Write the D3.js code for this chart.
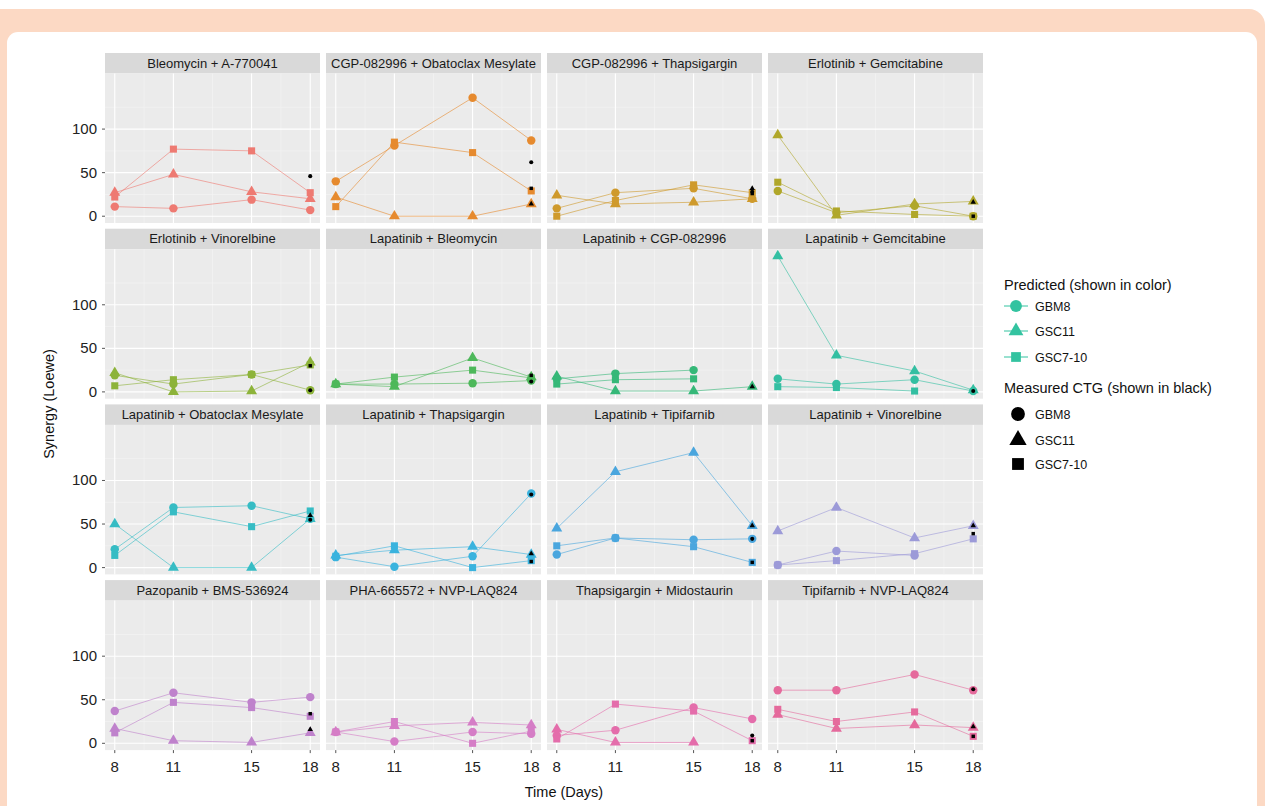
<!DOCTYPE html>
<html>
<head>
<meta charset="utf-8">
<script src="https://cdn.jsdelivr.net/npm/d3@7"></script>
<style>
  html, body { margin: 0; padding: 0; background: #fff; }
  svg { display: block; font-family: "Liberation Sans", Arial, Helvetica, sans-serif; }
</style>
</head>
<body>
<div id="chart"></div>
<script>
// facet titles, in panel order (4 x 4)
var combos = [
  "Bleomycin + A-770041", "CGP-082996 + Obatoclax Mesylate", "CGP-082996 + Thapsigargin", "Erlotinib + Gemcitabine",
  "Erlotinib + Vinorelbine", "Lapatinib + Bleomycin", "Lapatinib + CGP-082996", "Lapatinib + Gemcitabine",
  "Lapatinib + Obatoclax Mesylate", "Lapatinib + Thapsigargin", "Lapatinib + Tipifarnib", "Lapatinib + Vinorelbine",
  "Pazopanib + BMS-536924", "PHA-665572 + NVP-LAQ824", "Thapsigargin + Midostaurin", "Tipifarnib + NVP-LAQ824"
];
var panelColors = [
  "#ee7a72", "#e68a2e", "#cf9a2c", "#b0a72a",
  "#8db33a", "#4db85a", "#35b878", "#33bfa2",
  "#36bcc4", "#3ab3de", "#4aa6de", "#9c9ad8",
  "#bf82cc", "#d57dc6", "#e46dab", "#e56a9c"
];
var days = [8, 11, 15, 18];
var xTicks = [8, 11, 15, 18];
var yTicks = [0, 50, 100];
var cellLines = ["GBM8", "GSC11", "GSC7-10"];

// predicted synergy (one row per panel, values at days 8, 11, 15, 18)
var predGBM8 = [
  [11, 9, 19, 7], [40, 81, 136, 87], [9, 27, 32, 20], [29, 4, 12, 0],
  [19, 9, 20, 2], [9, 9, 10, 13], [15, 21, 25, null], [15, 9, 14, 1],
  [21, 69, 71, 56], [12, 1, 13, 85], [15, 34, 32, 33], [3, 19, 14, null],
  [37, 58, 47, 53], [13, 2, 13, 11], [9, 15, 41, 28], [61, 61, 79, 61]
];
var predGSC11 = [
  [27, 48, 28, 20], [22, 0, 0, 14], [24, 14, 16, 20], [93, 1, 14, 17],
  [22, 0, 1, 34], [9, 6, 39, 17], [18, 1, 1, 6], [156, 42, 24, 2],
  [50, 0, 0, 56], [14, 20, 24, 15], [45, 110, 132, 48], [42, 69, 34, 48],
  [17, 3, 1, 12], [13, 20, 24, 21], [16, 1, 1, null], [33, 17, 21, 18]
];
var predGSC710 = [
  [22, 77, 75, 27], [11, 85, 73, 29], [0, 18, 36, 27], [39, 6, 2, 0],
  [7, 14, 20, 31], [9, 17, 25, 16], [9, 14, 15, null], [6, 5, 1, null],
  [14, 64, 47, 65], [13, 25, 0, 8], [25, 34, 24, 6], [3, 8, 16, 33],
  [12, 47, 41, 31], [13, 25, 0, 14], [5, 45, 37, 3], [39, 25, 36, 8]
];
// measured CTG synergy at day 18
var ctgDay = 18;
var ctgGBM8 = [46, 62, 28, null, 2, 12, null, 1, 55, 84, 33, null, null, null, 9, 62];
var ctgGSC11 = [null, 14, 32, 16, null, null, 6, null, 60, 16, 48, 48, 16, null, null, 19];
var ctgGSC710 = [null, 32, 26, 0, 30, 19, null, null, null, 7, 6, 39, 34, null, 3, 8];

var W = 1265, H = 806;
var panelLeft = 105, colPitch = 221, panelW = 215;
var stripTop = 53, rowPitch = 175.7, stripH = 20.5, panelH = 149.5;

var svg = d3.select("#chart").append("svg")
    .attr("width", W)
    .attr("height", H);

// page frame
svg.append("rect").attr("x", -20).attr("y", 9).attr("width", W + 20).attr("height", H + 40)
    .attr("rx", 16).attr("fill", "#fcd9c4");
svg.append("rect").attr("x", 0).attr("y", 9).attr("width", 30).attr("height", H)
    .attr("fill", "#fcd9c4");
svg.append("rect").attr("x", 7).attr("y", 32).attr("width", 1250).attr("height", H + 40)
    .attr("rx", 11).attr("fill", "#fff");

var allVals = [].concat(d3.merge(predGBM8), d3.merge(predGSC11), d3.merge(predGSC710))
    .filter(function (v) { return v != null; });
var yMin = d3.min(allVals), yMax = d3.max(allVals);
var yPad = (yMax - yMin) * 0.05;

var x = d3.scaleLinear().domain([7.5, 18.5]).range([0, panelW]);
var y = d3.scaleLinear().domain([yMin - yPad, yMax + yPad]).range([panelH, 0]);

var shapes = [d3.symbolCircle, d3.symbolTriangle, d3.symbolSquare];
var bigSizes = [56, 52, 50];
var smallSizes = [13, 13, 12];

var line = d3.line()
    .defined(function (d) { return d != null; })
    .x(function (d, i) { return x(days[i]); })
    .y(function (d) { return y(d); });

combos.forEach(function (name, p) {
  var r = Math.floor(p / 4), c = p % 4;
  var gx = panelLeft + c * colPitch, gy = stripTop + r * rowPitch;
  var g = svg.append("g").attr("transform", "translate(" + gx + "," + gy + ")");

  g.append("rect").attr("width", panelW).attr("height", stripH).attr("fill", "#d9d9d9");
  g.append("text").attr("x", panelW / 2).attr("y", stripH / 2 + 4.5)
      .attr("text-anchor", "middle").attr("font-size", 13).attr("fill", "#1a1a1a")
      .text(name);

  var pg = g.append("g").attr("transform", "translate(0," + stripH + ")");
  pg.append("rect").attr("width", panelW).attr("height", panelH).attr("fill", "#ebebeb");

  // minor grid
  [25, 75, 125].forEach(function (v) {
    pg.append("line").attr("x1", 0).attr("x2", panelW).attr("y1", y(v)).attr("y2", y(v))
        .attr("stroke", "#f5f5f5").attr("stroke-width", 0.6);
  });
  [9.5, 13, 16.5].forEach(function (v) {
    pg.append("line").attr("y1", 0).attr("y2", panelH).attr("x1", x(v)).attr("x2", x(v))
        .attr("stroke", "#f5f5f5").attr("stroke-width", 0.6);
  });
  // major grid
  yTicks.forEach(function (v) {
    pg.append("line").attr("x1", 0).attr("x2", panelW).attr("y1", y(v)).attr("y2", y(v))
        .attr("stroke", "#fff").attr("stroke-width", 1.1);
  });
  xTicks.forEach(function (v) {
    pg.append("line").attr("y1", 0).attr("y2", panelH).attr("x1", x(v)).attr("x2", x(v))
        .attr("stroke", "#fff").attr("stroke-width", 1.1);
  });

  var col = panelColors[p];
  var series = [predGBM8[p], predGSC11[p], predGSC710[p]];

  series.forEach(function (vals) {
    pg.append("path").datum(vals).attr("d", line)
        .attr("fill", "none").attr("stroke", col).attr("stroke-width", 1)
        .attr("stroke-opacity", 0.6);
  });
  series.forEach(function (vals, s) {
    pg.selectAll(".pt" + s)
        .data(vals.map(function (v, i) { return { day: days[i], v: v }; })
                  .filter(function (d) { return d.v != null; }))
      .enter().append("path")
        .attr("transform", function (d) { return "translate(" + x(d.day) + "," + y(d.v) + ")"; })
        .attr("d", d3.symbol().type(shapes[s]).size(bigSizes[s]))
        .attr("fill", col);
  });

  [ctgGBM8[p], ctgGSC11[p], ctgGSC710[p]].forEach(function (v, s) {
    if (v == null) return;
    pg.append("path")
        .attr("transform", "translate(" + x(ctgDay) + "," + y(v) + ")")
        .attr("d", d3.symbol().type(shapes[s]).size(smallSizes[s]))
        .attr("fill", "#000");
  });

  // y axis on first column
  if (c === 0) {
    yTicks.forEach(function (v) {
      pg.append("line").attr("x1", -3).attr("x2", 0).attr("y1", y(v)).attr("y2", y(v))
          .attr("stroke", "#555").attr("stroke-width", 1);
      pg.append("text").attr("x", -8).attr("y", y(v) + 5)
          .attr("text-anchor", "end").attr("font-size", 15).attr("fill", "#222")
          .text(v);
    });
  }
  // x axis on last row
  if (r === 3) {
    xTicks.forEach(function (v) {
      pg.append("line").attr("y1", panelH).attr("y2", panelH + 3).attr("x1", x(v)).attr("x2", x(v))
          .attr("stroke", "#555").attr("stroke-width", 1);
      pg.append("text").attr("x", x(v)).attr("y", panelH + 22)
          .attr("text-anchor", "middle").attr("font-size", 15).attr("fill", "#222")
          .text(v);
    });
  }
});

// axis titles
svg.append("text").attr("x", 564).attr("y", 797)
    .attr("text-anchor", "middle").attr("font-size", 14.5).attr("fill", "#111")
    .text("Time (Days)");
svg.append("text").attr("transform", "translate(54,404) rotate(-90)")
    .attr("text-anchor", "middle").attr("font-size", 14.5).attr("fill", "#111")
    .text("Synergy (Loewe)");

// legend
var leg = svg.append("g");
var keyColor = "#33c3a0";
leg.append("text").attr("x", 1004).attr("y", 290).attr("font-size", 14.5).attr("fill", "#111")
    .text("Predicted (shown in color)");
[306, 331, 357].forEach(function (ky, s) {
  leg.append("line").attr("x1", 1004).attr("x2", 1028).attr("y1", ky).attr("y2", ky)
      .attr("stroke", keyColor).attr("stroke-width", 1);
  leg.append("path").attr("transform", "translate(1016," + ky + ")")
      .attr("d", d3.symbol().type(shapes[s]).size([110, 95, 95][s]))
      .attr("fill", keyColor);
  leg.append("text").attr("x", 1035).attr("y", ky + 4.5).attr("font-size", 12.5).attr("fill", "#111")
      .text(cellLines[s]);
});
leg.append("text").attr("x", 1004).attr("y", 393).attr("font-size", 14.5).attr("fill", "#111")
    .text("Measured CTG (shown in black)");
[414, 440, 464].forEach(function (ky, s) {
  leg.append("path").attr("transform", "translate(1018," + ky + ")")
      .attr("d", d3.symbol().type(shapes[s]).size([150, 130, 140][s]))
      .attr("fill", "#000");
  leg.append("text").attr("x", 1035).attr("y", ky + 4.5).attr("font-size", 12.5).attr("fill", "#111")
      .text(cellLines[s]);
});
</script>
</body>
</html>
